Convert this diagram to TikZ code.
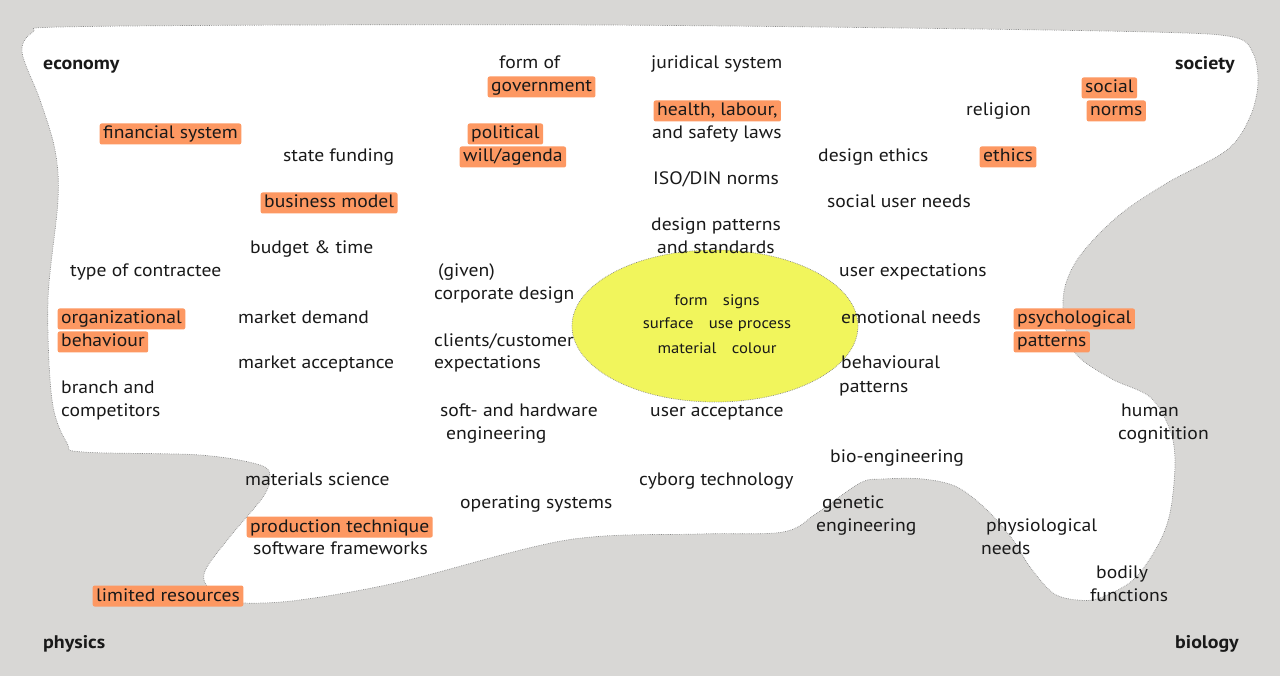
\documentclass[tikz,border=0pt]{standalone}
\usepackage{fontspec}
\setmainfont{PT Sans}[FakeStretch=1.09]
\usetikzlibrary{shapes.geometric}
\definecolor{bg}{RGB}{216,215,213}
\definecolor{hl}{RGB}{253,152,98}
\definecolor{corefill}{RGB}{241,245,92}
\definecolor{ink}{RGB}{25,25,25}
\definecolor{rim}{RGB}{135,135,135}
\begin{document}
\begin{tikzpicture}[x=1pt,y=-1pt,
  lbl/.style={anchor=base west, inner xsep=3.5pt, inner ysep=3pt, text height=12.5pt, text depth=2.5pt, font=\fontsize{18}{21}\selectfont, text=ink},
  hlbl/.style={lbl, fill=hl, rounded corners=2pt},
  head/.style={anchor=base west, inner sep=0pt, font=\bfseries\fontsize{18.3}{21}\selectfont, text=ink},
  coretext/.style={anchor=base, inner sep=0pt, font=\fontsize{15.3}{18}\selectfont, text=ink},
  rimline/.style={draw=rim, line width=0.7pt, dash pattern=on 0.7pt off 1.1pt}]
\useasboundingbox (0,0) rectangle (1280,676);
\fill[bg] (0,0) rectangle (1280,676);
% blob
\draw[rimline, fill=white] plot[smooth cycle, tension=0.55] coordinates {
 (60,27) (300,25) (600,25) (900,28) (1150,32) (1233,37) (1253,53) (1258,83)
 (1250,117) (1227,150) (1167,183) (1117,217) (1077,260) (1063,300) (1073,350)
 (1110,378) (1150,397) (1170,430) (1175,463) (1170,513) (1157,547) (1133,580)
 (1100,598) (1077,600) (1053,593) (1030,567) (1013,540) (987,510) (957,487)
 (923,479) (883,479) (860,483) (817,513) (783,532) (700,534) (567,540)
 (400,582) (300,600) (243,603) (220,597) (205,583) (207,567) (233,533)
 (263,497) (270,477) (260,465) (200,455) (83,452) (67,443) (52,400) (48,300)
 (58,200) (55,150) (40,100) (22,52) (33,32)};
% core ellipse
\node[ellipse, rimline, fill=corefill, minimum width=286pt, minimum height=152pt, inner sep=0pt] (core) at (715,326) {};
\node[coretext] (c1) at (717,306) {form\quad signs};
\node[coretext] (c2) at (717,329) {surface\quad use process};
\node[coretext] (c3) at (717,353) {material\quad colour};
% corner headings
\node[head] (economy) at (43,70) {economy};
\node[head] (society) at (1175,70) {society};
\node[head] (physics) at (43,648) {physics};
\node[head] (biology) at (1175,648) {biology};
% labels
\node[lbl]  (formof) at (495.5,69) {form of};
\node[hlbl] (government) at (487.5,92) {government};
\node[lbl]  (juridical) at (647.5,69) {juridical system};
\node[hlbl] (health) at (653.5,116) {health, labour,};
\node[lbl]  (safety) at (648.5,139) {and safety laws};
\node[hlbl] (financial) at (99.5,139) {financial system};
\node[lbl]  (statefunding) at (279.5,162) {state funding};
\node[hlbl] (political) at (467.5,139) {political\hspace{8pt}};
\node[hlbl] (will) at (459.5,162) {will/agenda};
\node[lbl]  (designethics) at (814.5,162) {design ethics};
\node[hlbl] (ethics) at (979.5,162) {ethics};
\node[lbl]  (religion) at (962.5,116) {religion};
\node[hlbl] (social) at (1081.5,93) {social\hspace{6pt}};
\node[hlbl] (norms) at (1086.5,116) {norms\hspace{6pt}};
\node[lbl]  (iso) at (649.5,185) {ISO/DIN norms};
\node[hlbl] (business) at (260.5,208) {business model};
\node[lbl]  (socialneeds) at (823.5,208) {social user needs};
\node[lbl]  (patterns1) at (647.5,231) {design patterns};
\node[lbl]  (standards) at (653.5,254) {and standards};
\node[lbl]  (budget) at (246.5,254) {budget \& time};
\node[lbl]  (contractee) at (66.5,277) {type of contractee};
\node[lbl]  (given) at (434.5,277) {(given)};
\node[lbl]  (corporate) at (430.5,300) {corporate design};
\node[lbl]  (userexp) at (835.5,277) {user expectations};
\node[hlbl] (organizational) at (57.5,324) {organizational};
\node[hlbl] (behaviour) at (57.5,347) {behaviour};
\node[lbl]  (marketdemand) at (234.5,324) {market demand};
\node[lbl]  (clients) at (430.5,346) {clients/customer};
\node[lbl]  (expectations) at (430.5,369) {expectations};
\node[lbl]  (marketacc) at (234.5,369) {market acceptance};
\node[lbl]  (emotional) at (837.5,324) {emotional needs};
\node[hlbl] (psychological) at (1013.5,324) {psychological};
\node[hlbl] (psypatterns) at (1013.5,347) {patterns};
\node[lbl]  (behavioural) at (837.5,369) {behavioural};
\node[lbl]  (behpatterns) at (835.5,392) {patterns};
\node[lbl]  (branch) at (57.5,393) {branch and};
\node[lbl]  (competitors) at (57.5,416) {competitors};
\node[lbl]  (softhard) at (436.5,416) {soft- and hardware};
\node[lbl]  (engineering1) at (442.5,439) {engineering};
\node[lbl]  (useracc) at (646.5,416) {user acceptance};
\node[lbl]  (human) at (1117.5,416) {human};
\node[lbl]  (cognition) at (1114.5,439) {cognitition};
\node[lbl]  (bio) at (826.5,462) {bio-engineering};
\node[lbl]  (materials) at (241.5,485) {materials science};
\node[lbl]  (cyborg) at (635.5,485) {cyborg technology};
\node[lbl]  (operating) at (456.5,508) {operating systems};
\node[lbl]  (genetic) at (818.5,508) {genetic};
\node[lbl]  (engineering2) at (812.5,531) {engineering};
\node[hlbl] (production) at (246.5,532) {production technique};
\node[lbl]  (physiological) at (982.5,531) {physiological};
\node[lbl]  (needs) at (977.5,554) {needs};
\node[lbl]  (software) at (249.5,554) {software frameworks};
\node[lbl]  (bodily) at (1092.5,578) {bodily};
\node[lbl]  (functions) at (1086.5,601) {functions};
\node[hlbl] (limited) at (92.5,601) {limited resources};
\end{tikzpicture}
\end{document}
